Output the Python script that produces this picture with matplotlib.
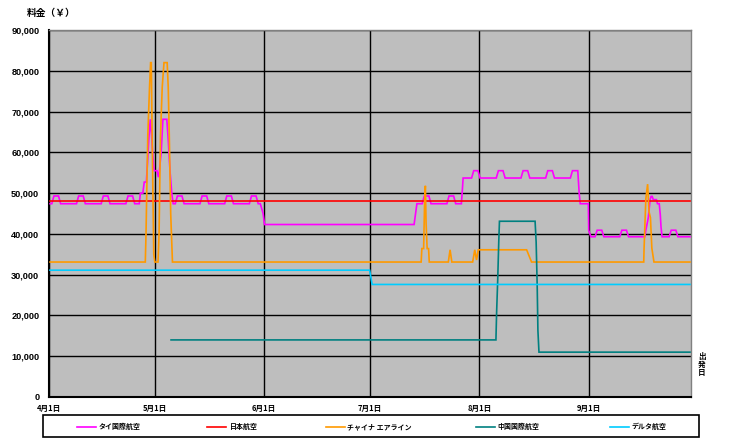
import matplotlib
matplotlib.use('Agg')
import matplotlib.pyplot as plt
from matplotlib.lines import Line2D
from matplotlib.patches import Rectangle

# ---------------- data (day offset from 4/1, fare in yen) ----------------
series_names = ['タイ国際航空', '日本航空', 'チャイナ エアライン', '中国国際航空', 'デルタ航空']
series_colors = ['#FF00FF', '#FF0000', '#FF9900', '#008080', '#00CCFF']

thai_days = [0.3, 0.8, 1.4, 2.7, 3.3,
             7.8, 8.4, 9.7, 10.3,
             14.8, 15.4, 16.7, 17.3,
             21.8, 22.4, 23.7, 24.3,
             25.6, 25.9, 26.6, 27.0, 27.6, 27.9, 28.3, 28.7, 29.1, 29.4, 29.8, 30.6, 31.0,
             31.3, 31.8, 32.3, 33.4, 33.8, 34.3, 34.8, 35.2,
             35.8, 36.4, 37.7, 38.3,
             42.8, 43.4, 44.7, 45.3,
             49.8, 50.4, 51.7, 52.3,
             56.8, 57.4, 58.7, 59.3,
             59.9, 60.7, 61.1,
             103.5, 104.0, 104.3,
             105.8, 106.4, 107.7, 108.3,
             112.8, 113.4, 114.7, 115.3,
             116.9, 117.2, 117.4,
             119.8, 120.4, 121.6, 122.2,
             126.8, 127.4, 128.7, 129.3,
             133.8, 134.4, 135.7, 136.3,
             140.8, 141.4, 142.7, 143.3,
             147.8, 148.4, 149.9, 150.3, 150.6, 152.9, 153.0, 153.6,
             154.8, 155.4, 156.7, 157.3,
             161.8, 162.4, 163.7, 164.3,
             168.9, 169.2, 169.9, 170.4, 170.7, 171.0, 171.3, 172.2, 172.5, 173.0, 173.3, 173.5, 173.8,
             175.8, 176.4, 177.7, 178.3,
             181.7]
thai_fares = [47400, 47400, 49300, 49300, 47400,
              47400, 49300, 49300, 47400,
              47400, 49300, 49300, 47400,
              47400, 49300, 49300, 47400,
              47400, 50000, 50000, 52700, 52700, 57100, 63200, 68100, 64000, 59600, 55500, 55500, 53900,
              55500, 60000, 68100, 68100, 63000, 55500, 50000, 47400,
              47400, 49300, 49300, 47400,
              47400, 49300, 49300, 47400,
              47400, 49300, 49300, 47400,
              47400, 49300, 49300, 47400,
              47400, 45000, 42300,
              42300, 45500, 47400,
              47400, 49300, 49300, 47400,
              47400, 49300, 49300, 47400,
              47400, 51000, 53700,
              53700, 55500, 55500, 53700,
              53700, 55500, 55500, 53700,
              53700, 55500, 55500, 53700,
              53700, 55500, 55500, 53700,
              53700, 55500, 55500, 50000, 47400, 47400, 40900, 39300,
              39300, 40900, 40900, 39300,
              39300, 40900, 40900, 39300,
              39300, 40900, 44000, 48400, 49200, 49200, 48400, 48400, 47400, 47400, 44600, 41700, 39300,
              39300, 40900, 40900, 39300,
              39300]

jal_days = [0.3, 181.7]
jal_fares = [48000, 48000]

ci_days = [0.3, 27.3, 27.5, 28.0, 28.5, 28.8, 29.0, 29.3, 29.7, 30.0, 30.9, 31.2, 31.6, 32.1, 32.6,
           33.5, 33.8, 34.1, 34.5, 35.0,
           105.5, 105.7, 106.2, 106.5, 106.7, 106.9, 107.2, 107.6, 107.8,
           113.2, 113.7, 114.2,
           120.1, 120.7, 121.2, 121.7,
           135.4, 136.8,
           168.6, 168.7, 169.2, 169.7, 170.1, 170.5, 170.9, 171.5,
           181.7]
ci_fares = [33100, 33100, 40000, 64000, 76000, 82000, 82000, 60000, 35000, 33100, 33100, 40000, 64000, 76000, 82000,
            82000, 76000, 64000, 45000, 33100,
            33100, 36400, 36400, 48500, 51800, 42600, 36400, 36400, 33100,
            33100, 36100, 33100,
            33100, 36100, 33600, 36100,
            36100, 33100,
            33100, 36500, 48600, 52200, 45400, 44000, 36500, 33100,
            33100]

ca_days = [34.6, 126.7, 126.9, 127.2, 127.5, 127.7, 137.8, 138.1, 138.4, 138.6, 138.9, 181.7]
ca_fares = [14000, 14000, 20900, 28600, 38000, 43100, 43100, 38000, 27200, 16300, 11000, 11000]

dl_days = [0.3, 90.9, 91.6, 181.7]
dl_fares = [31100, 31100, 27600, 27600]

month_days = [0, 30, 61, 91, 122, 153]
month_labels = ['4月1日', '5月1日', '6月1日', '7月1日', '8月1日', '9月1日']
y_ticks = [0, 10000, 20000, 30000, 40000, 50000, 60000, 70000, 80000, 90000]
y_labels = ['0', '10,000', '20,000', '30,000', '40,000', '50,000', '60,000', '70,000', '80,000', '90,000']

# ---------------- figure ----------------
W, H = 729, 446
fig = plt.figure(figsize=(W / 100, H / 100), dpi=100)
fig.patch.set_facecolor('white')

L, R, T, B = 49, 691, 30, 397
ax = fig.add_axes([L / W, 1 - B / H, (R - L) / W, (B - T) / H])
ax.set_facecolor('#BEBEBE')
ax.set_xlim(0, 182)
ax.set_ylim(0, 90000)
ax.set_axisbelow(True)

all_days = [thai_days, jal_days, ci_days, ca_days, dl_days]
all_fares = [thai_fares, jal_fares, ci_fares, ca_fares, dl_fares]
for d, f, c in zip(all_days, all_fares, series_colors):
    ax.plot(d, f, color=c, lw=1.2, solid_joinstyle='miter', zorder=3)

cjk = ['Noto Sans CJK JP', 'DejaVu Sans']
ax.set_xticks(month_days)
ax.set_xticklabels(month_labels, fontfamily=cjk, fontweight='bold', fontsize=5.5)
ax.set_yticks(y_ticks)
ax.set_yticklabels(y_labels, fontfamily='Liberation Sans', fontweight='bold', fontsize=6.6)
ax.tick_params(axis='both', length=0)
ax.tick_params(axis='y', pad=7)
ax.tick_params(axis='x', pad=5)
ax.grid(True, color='black', lw=1.0)

for s in ['left', 'bottom']:
    ax.spines[s].set_color('black')
    ax.spines[s].set_linewidth(1.5)
for s in ['top', 'right']:
    ax.spines[s].set_color('#808080')
    ax.spines[s].set_linewidth(1.0)

fig.text(27 / W, 1 - 12.5 / H, '料金（￥）', fontfamily=cjk, fontweight='bold',
         fontsize=7, ha='left', va='center')
for ch, yy in zip('出発日', [356, 364, 372]):
    fig.text(702 / W, 1 - yy / H, ch, fontfamily=cjk, fontweight='bold',
             fontsize=5.5, ha='center', va='center')

# legend box
fig.add_artist(Rectangle((43 / W, 1 - 437 / H), 656 / W, 22 / H, transform=fig.transFigure,
                         facecolor='white', edgecolor='black', lw=1.2))
line_x = [77, 207, 326, 476, 610]
text_x = [99, 230, 347, 497, 631]
ly = 1 - 426.7 / H
for name, c, lx, tx in zip(series_names, series_colors, line_x, text_x):
    fig.add_artist(Line2D([lx / W, (lx + 19) / W], [ly, ly], transform=fig.transFigure,
                          color=c, lw=1.2))
    fig.text(tx / W, ly, name, fontfamily=cjk, fontweight='bold', fontsize=5,
             ha='left', va='center')

fig.savefig('out.png', dpi=100)
